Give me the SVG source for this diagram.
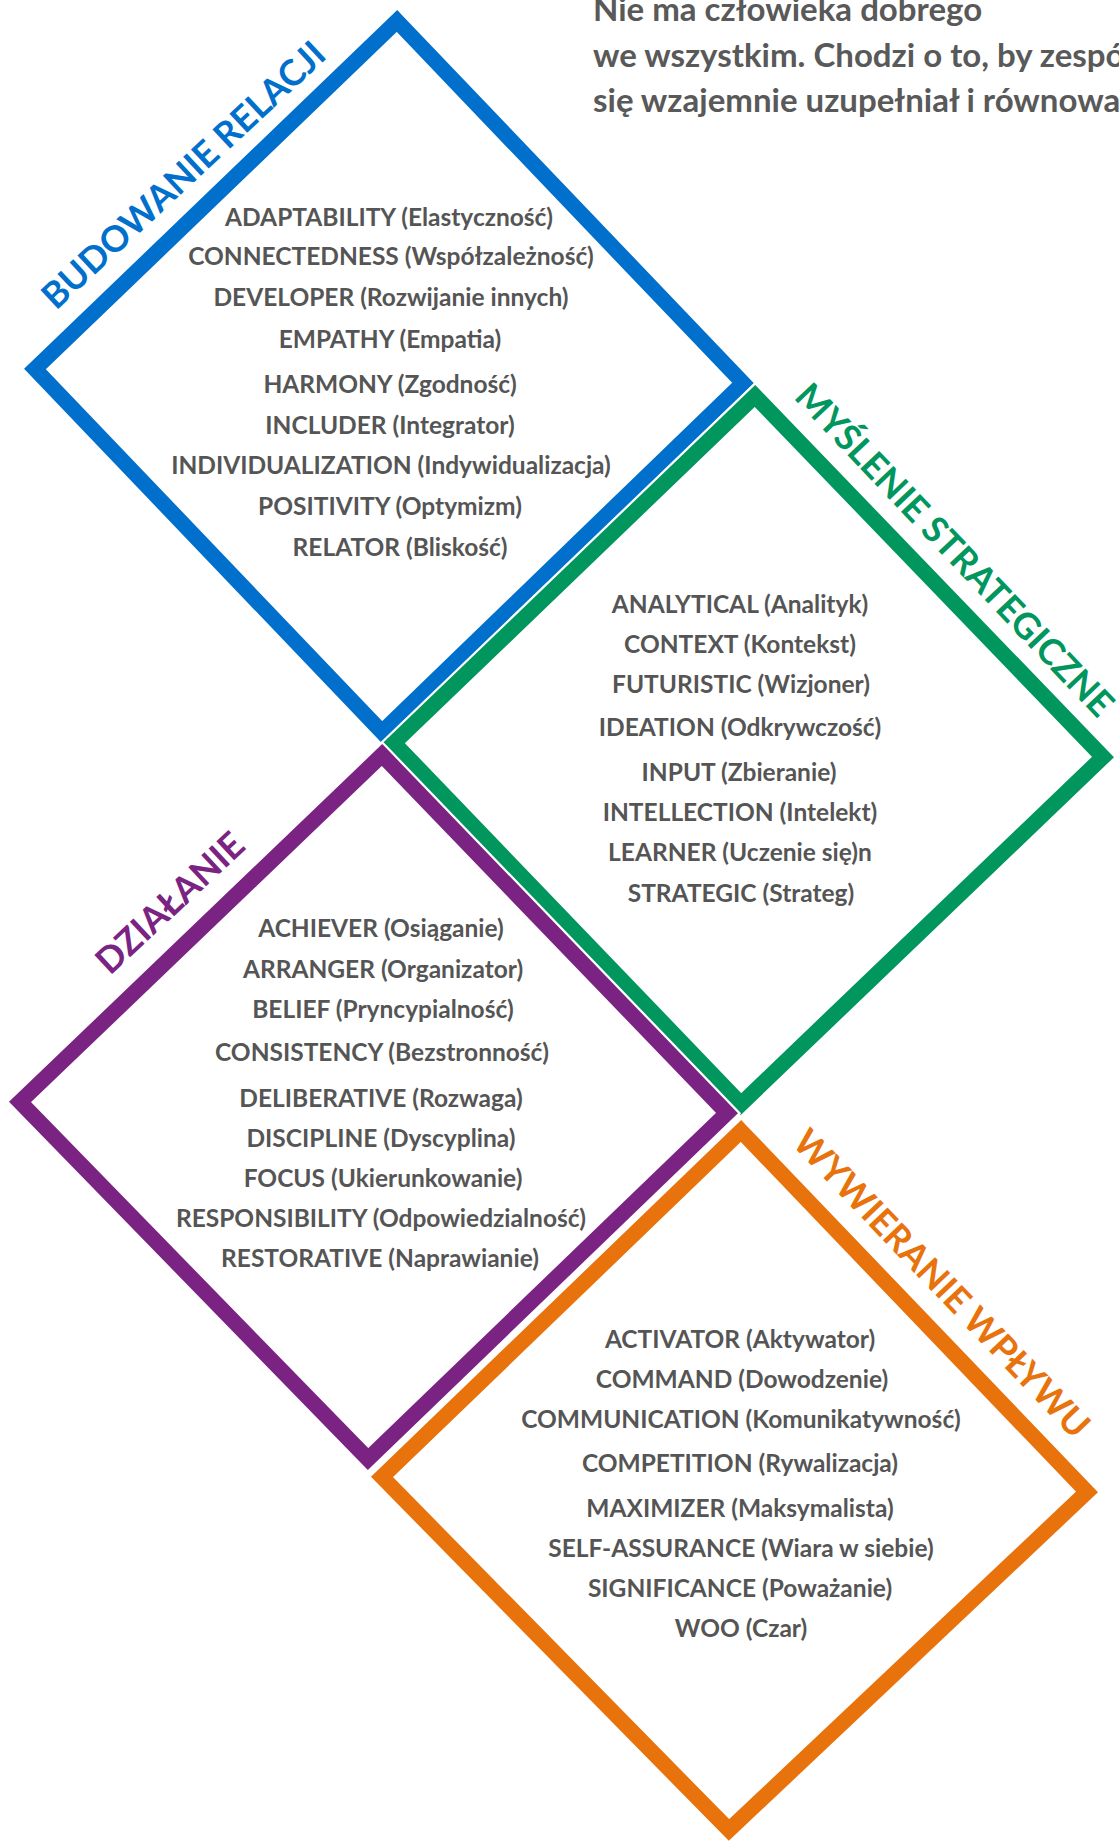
<svg xmlns="http://www.w3.org/2000/svg" width="1119" height="1843" viewBox="0 0 1119 1843">
<style>
.frame-bg{fill:none;stroke:#ffffff;stroke-width:20;stroke-linejoin:miter}
.frame{fill:none;stroke-width:15.5;stroke-linejoin:miter}
.item{font-family:Lato,"Liberation Sans",sans-serif;font-weight:700;font-size:24.5px;fill:#555555;text-anchor:middle}
.cat{font-family:Lato,"Liberation Sans",sans-serif;font-weight:700;font-size:36px}
.title{font-family:Lato,"Liberation Sans",sans-serif;font-weight:700;font-size:33px;fill:#595959}
</style>
<rect width="1119" height="1843" fill="#ffffff"/>
<g id="title">
<text class="title" x="593" y="21">Nie ma człowieka dobrego</text>
<text class="title" x="593" y="67">we wszystkim. Chodzi o to, by zespół</text>
<text class="title" x="593" y="112">się wzajemnie uzupełniał i równoważył</text>
</g>
<g id="budowanie-relacji">
<polygon class="frame-bg" points="397,21 743,383 382,732 35,369"/>
<polygon class="frame" stroke="#0070CC" points="397,21 743,383 382,732 35,369"/>
<text class="cat" fill="#0070CC" transform="translate(56,311) rotate(-43)">BUDOWANIE RELACJI</text>
<text class="item" x="389" y="226">ADAPTABILITY (Elastyczność)</text>
<text class="item" x="391" y="265">CONNECTEDNESS (Współzależność)</text>
<text class="item" x="391" y="306">DEVELOPER (Rozwijanie innych)</text>
<text class="item" x="390" y="348">EMPATHY (Empatia)</text>
<text class="item" x="390" y="393">HARMONY (Zgodność)</text>
<text class="item" x="390" y="434">INCLUDER (Integrator)</text>
<text class="item" x="391" y="474">INDIVIDUALIZATION (Indywidualizacja)</text>
<text class="item" x="390" y="515">POSITIVITY (Optymizm)</text>
<text class="item" x="400" y="556">RELATOR (Bliskość)</text>
</g>
<g id="myslenie-strategiczne">
<polygon class="frame-bg" points="755,396 1103,757 741,1104 394,743"/>
<polygon class="frame" stroke="#00965E" points="755,396 1103,757 741,1104 394,743"/>
<text class="cat" fill="#00965E" transform="translate(793,398) rotate(46.5)">MYŚLENIE STRATEGICZNE</text>
<text class="item" x="740" y="613">ANALYTICAL (Analityk)</text>
<text class="item" x="740" y="653">CONTEXT (Kontekst)</text>
<text class="item" x="741" y="693">FUTURISTIC (Wizjoner)</text>
<text class="item" x="740" y="736">IDEATION (Odkrywczość)</text>
<text class="item" x="739" y="781">INPUT (Zbieranie)</text>
<text class="item" x="740" y="821">INTELLECTION (Intelekt)</text>
<text class="item" x="740" y="861">LEARNER (Uczenie się)n</text>
<text class="item" x="741" y="902">STRATEGIC (Strateg)</text>
</g>
<g id="dzialanie">
<polygon class="frame-bg" points="382,755 727,1113 368,1459 20,1102"/>
<polygon class="frame" stroke="#7A2382" points="382,755 727,1113 368,1459 20,1102"/>
<text class="cat" fill="#7A2382" transform="translate(110,976) rotate(-43)">DZIAŁANIE</text>
<text class="item" x="381" y="937">ACHIEVER (Osiąganie)</text>
<text class="item" x="383" y="978">ARRANGER (Organizator)</text>
<text class="item" x="383" y="1018">BELIEF (Pryncypialność)</text>
<text class="item" x="382" y="1061">CONSISTENCY (Bezstronność)</text>
<text class="item" x="381" y="1107">DELIBERATIVE (Rozwaga)</text>
<text class="item" x="381" y="1147">DISCIPLINE (Dyscyplina)</text>
<text class="item" x="383" y="1187">FOCUS (Ukierunkowanie)</text>
<text class="item" x="381" y="1227">RESPONSIBILITY (Odpowiedzialność)</text>
<text class="item" x="380" y="1267">RESTORATIVE (Naprawianie)</text>
</g>
<g id="wywieranie-wplywu">
<polygon class="frame-bg" points="741,1131 1087,1492 729,1830 382,1477"/>
<polygon class="frame" stroke="#E8730C" points="741,1131 1087,1492 729,1830 382,1477"/>
<text class="cat" fill="#E8730C" transform="translate(791,1144) rotate(46.3)">WYWIERANIE WPŁYWU</text>
<text class="item" x="740" y="1348">ACTIVATOR (Aktywator)</text>
<text class="item" x="742" y="1388">COMMAND (Dowodzenie)</text>
<text class="item" x="741" y="1428">COMMUNICATION (Komunikatywność)</text>
<text class="item" x="740" y="1472">COMPETITION (Rywalizacja)</text>
<text class="item" x="740" y="1517">MAXIMIZER (Maksymalista)</text>
<text class="item" x="741" y="1557">SELF-ASSURANCE  (Wiara w siebie)</text>
<text class="item" x="740" y="1597">SIGNIFICANCE (Poważanie)</text>
<text class="item" x="741" y="1637">WOO (Czar)</text>
</g>
<g id="connectors"></g>
</svg>
